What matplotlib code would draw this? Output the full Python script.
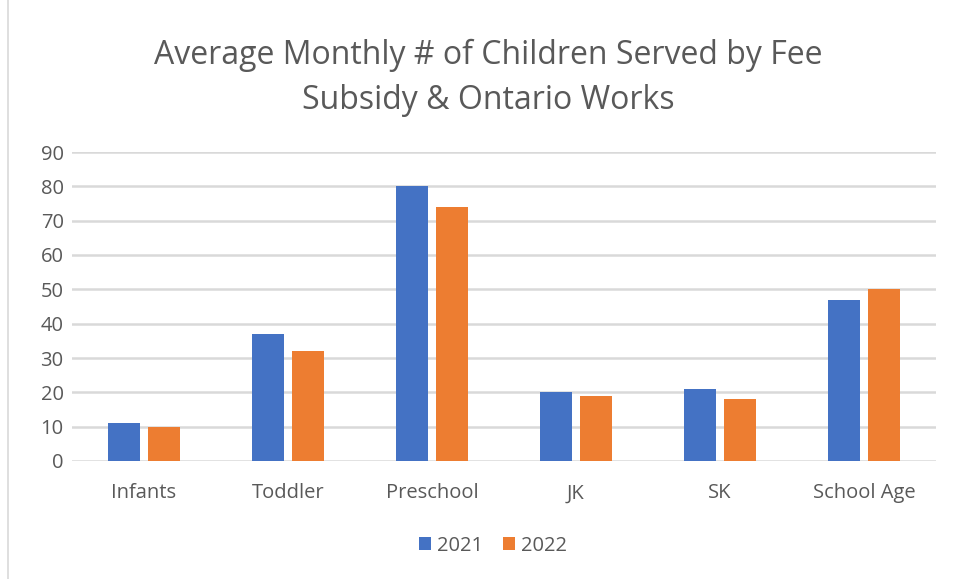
import numpy as np
import matplotlib.pyplot as plt
from matplotlib.patches import Rectangle

categories = ['Infants', 'Toddler', 'Preschool', 'JK', 'SK', 'School Age']
vals_2021 = [11, 37, 80, 20, 21, 47]
vals_2022 = [10, 32, 74, 19, 18, 50]
y_ticks = [0, 10, 20, 30, 40, 50, 60, 70, 80, 90]

blue = '#4472C4'
orange = '#ED7D31'
txt = '#595959'

plt.rcParams['font.family'] = ['Open Sans', 'DejaVu Sans']

fig = plt.figure(figsize=(9.54, 5.79), dpi=100)
ax = fig.add_axes([72 / 954, 1 - 461 / 579, (936 - 72) / 954, (461 - 152) / 579])

x = np.arange(len(categories))
w = 0.225
ax.bar(x - 0.14, vals_2021, w, color=blue, label='2021', zorder=3)
ax.bar(x + 0.14, vals_2022, w, color=orange, label='2022', zorder=3)

ax.set_xlim(-0.5, len(categories) - 0.5)
ax.set_ylim(0, 90)
ax.set_yticks(y_ticks)
ax.set_xticks(x)
ax.set_xticklabels(categories)
ax.tick_params(axis='both', length=0, labelsize=14.5, labelcolor=txt)
ax.tick_params(axis='y', pad=6)
ax.tick_params(axis='x', pad=16)
ax.grid(axis='y', color='#D9D9D9', linewidth=1.8, zorder=0)
for s in ax.spines.values():
    s.set_visible(False)

fig.text(488 / 954, 1 - 78 / 579, 'Average Monthly # of Children Served by Fee\nSubsidy & Ontario Works',
         ha='center', va='center', fontsize=23, color=txt, linespacing=1.45)

ax.legend(loc='center', bbox_to_anchor=(0.487, -0.275), ncol=2, frameon=False,
          fontsize=14.5, labelcolor=txt, handlelength=0.6, handleheight=0.6,
          handletextpad=0.3, columnspacing=1.0)

# thin chart border
fig.patches.append(Rectangle((8 / 954, -0.01), 1.0, 1.02, transform=fig.transFigure,
                             fill=False, edgecolor='#D9D9D9', linewidth=1.2))

fig.savefig('out.png', dpi=100, facecolor='white')
